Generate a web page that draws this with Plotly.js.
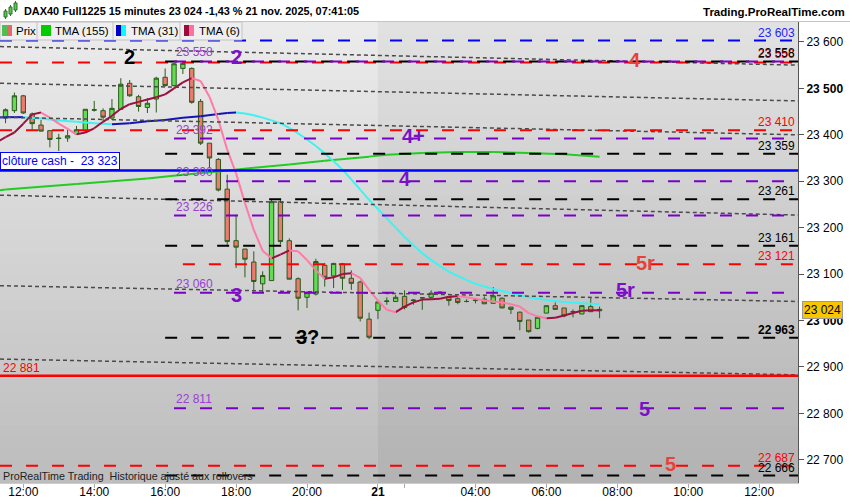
<!DOCTYPE html>
<html><head><meta charset="utf-8">
<script src="https://cdn.plot.ly/plotly-3.0.1.min.js"></script>
<style>html,body{margin:0;padding:0;background:#fff;}#chart{width:850px;height:500px;}</style>
</head><body><div id="chart"></div>
<script>
// ================= DATA =================
const session1Start = '2025-11-20 11:30';
const session1Count = 42;
const session2Start = '2025-11-21 01:15';

const openP  = [23436,23452,23484,23445,23421,23409,23393,23393,23402,23409,23453,23452,23436,23455,23511,23482,23459,23477,23524,23506,23543,23543,
                23472,23382,23347,23283,23172,23154,23126,23079,23086,23256,23172,23090,23050,23057,23119,23096,23122,23091,23083,23003,
                23022,23041,23041,23052,23043,23049,23050,23059,23050,23047,23041,23043,23046,23037,23048,23029,23018,23001,22983,23016,23032,23027,23019,23014,23030,23021];
const highP  = [23457,23491,23486,23448,23432,23409,23402,23411,23419,23455,23473,23457,23477,23522,23518,23486,23479,23525,23543,23554,23558,23545,
                23477,23382,23350,23314,23228,23154,23149,23106,23260,23261,23177,23093,23063,23133,23124,23124,23124,23108,23086,23017,
                23040,23050,23055,23065,23046,23050,23065,23062,23052,23050,23046,23048,23052,23072,23050,23029,23019,23001,23007,23032,23039,23027,23024,23032,23048,23030];
const lowP   = [23425,23447,23445,23411,23407,23373,23365,23385,23400,23404,23450,23429,23432,23454,23482,23450,23447,23448,23504,23504,23531,23467,
                23378,23328,23278,23163,23113,23093,23063,23060,23086,23164,23089,23022,23027,23054,23073,23070,23066,23066,22998,22960,
                23003,23034,23041,23024,23034,23023,23045,23057,23032,23035,23039,23037,23036,23036,23027,23014,22979,22974,22981,23016,23023,23007,23007,23014,23019,23005];
const closeP = [23454,23484,23447,23424,23408,23390,23392,23398,23411,23455,23454,23438,23457,23509,23484,23461,23468,23522,23506,23553,23554,23470,
                23382,23350,23281,23170,23158,23132,23084,23097,23256,23170,23089,23048,23060,23127,23093,23123,23091,23080,23005,22964,
                23040,23042,23050,23028,23044,23049,23059,23061,23043,23039,23041,23044,23036,23053,23027,23024,22998,22976,23007,23032,23024,23010,23019,23032,23019,23024];

const tma6Times = ['20 11:15','20 11:30','20 11:45','20 12:00','20 12:15','20 12:30','20 12:45','20 13:00','20 13:15','20 13:30','20 13:45','20 14:00','20 14:15','20 14:30','20 14:45','20 15:00','20 15:15','20 15:30','20 15:45','20 16:00','20 16:15','20 16:30','20 16:45','20 17:00','20 17:15','20 17:30','20 17:45','20 18:00','20 18:15','20 18:30','20 18:45','20 19:00','20 19:15','20 19:30','20 19:45','20 20:00','20 20:15','20 20:30','20 20:45','20 21:00','20 21:15','20 21:30','20 21:45','21 01:15','21 01:30','21 01:45','21 02:00','21 02:15','21 02:30','21 02:45','21 03:00','21 03:15','21 03:30','21 03:45','21 04:00','21 04:15','21 04:30','21 04:45','21 05:00','21 05:15','21 05:30','21 05:45','21 06:00','21 06:15','21 06:30','21 06:45','21 07:00','21 07:15','21 07:30'];
const tma6Values = [23384,23395,23405,23424,23444,23448,23437,23424,23413,23401,23405,23414,23428,23441,23456,23466,23471,23476,23481,23487,23500,23513,23522,23516,23482,23432,23368,23317,23253,23195,23150,23134,23142,23151,23149,23130,23108,23090,23093,23100,23102,23092,23066,23043,23023,23018,23030,23039,23045,23046,23047,23051,23052,23050,23047,23043,23041,23039,23035,23030,23016,23009,23005,23006,23011,23016,23021,23022,23022];

const tma31Times = ['20 11:15','20 11:30','20 11:45','20 12:00','20 12:30','20 13:00','20 13:30','20 14:00','20 14:30','20 15:00','20 15:30','20 16:00','20 16:30','20 17:00','20 17:30','20 17:45','20 18:00','20 18:15','20 18:30','20 18:45','20 19:00','20 19:15','20 19:30','20 19:45','20 20:00','20 20:15','20 20:30','20 20:45','20 21:00','20 21:15','20 21:30','20 21:45','21 01:15','21 01:30','21 01:45','21 02:00','21 02:15','21 02:30','21 02:45','21 03:00','21 03:15','21 03:30','21 03:45','21 04:00','21 04:30','21 05:00','21 05:30','21 06:00','21 06:30','21 07:00','21 07:30'];
const tma31Values = [23437,23438,23438,23438,23435,23431,23428,23425,23423,23425,23429,23432,23437,23440,23445,23447,23448,23446,23442,23437,23431,23425,23415,23403,23390,23376,23360,23343,23325,23304,23282,23260,23240,23220,23200,23180,23162,23145,23130,23117,23105,23096,23087,23079,23068,23059,23050,23044,23040,23037,23035];

const tma155Times = ['20 11:15','20 11:30','20 12:30','20 13:30','20 14:30','20 15:30','20 16:30','20 17:30','20 18:30','20 19:30','20 20:30','20 21:45','21 01:30','21 02:30','21 03:30','21 04:30','21 05:30','21 06:30','21 07:30'];
const tma155Values = [23280,23282,23288,23294,23300,23306,23314,23321,23329,23336,23344,23353,23357,23361,23363,23363,23361,23358,23353];

// horizontal levels
const blueDashedLevels   = [23603];
const redDashedLevels    = [23556, 23410, 22687];
const redDashedLateLevels = [23121];
const blackDashedLevels  = [23558, 23359, 23261, 23161, 22963, 22666];
const purpleDashedLevels = [23558, 23392, 23300, 23226, 23060, 22811];
const cashCloseLevel = 23323;
const redSolidLevel  = 22881;

// sloping dotted trend lines (price at left edge, price at right edge)
const trendLeft  = [23590, 23511, 23438, 23270, 23075, 22917];
const trendRight = [23550, 23473, 23400, 23227, 23041, 22883];

// wave labels
const waveLabels = ['2','2','4','4+','4','5r','3','5r','3?','5','5'];

// axes
const yTickValues = [22700,22800,22900,23000,23100,23200,23300,23400,23500,23600];
const xTickTimes  = ['20 12:00','20 14:00','20 16:00','20 18:00','20 20:00','21 01:15','21 02:00','21 04:00','21 06:00','21 08:00','21 10:00','21 12:00'];
const xTickLabels = ['12:00','14:00','16:00','18:00','20:00','<b>21</b>','','04:00','06:00','08:00','10:00','12:00'];

// ================= HELPERS =================
const FONT = 'Liberation Sans, Arial, sans-serif';
function T(s){ const p = s.split(' '); return '2025-11-' + p[0] + ' ' + p[1]; }
function fmt(v){ return String(Math.round(v)).replace(/\B(?=(\d{3})+(?!\d))/g, ' '); }
function makeTimes(startStr, n){
  const [date, hm] = startStr.split(' ');
  const [Y, M, D] = date.split('-').map(Number);
  const [h, m] = hm.split(':').map(Number);
  const base = Date.UTC(Y, M - 1, D, h, m);
  const out = [];
  for (let i = 0; i < n; i++) out.push(new Date(base + i * 900000).toISOString().slice(0, 16).replace('T', ' '));
  return out;
}
const candleTimes = makeTimes(session1Start, session1Count).concat(makeTimes(session2Start, openP.length - session1Count));

const X_START = '2025-11-20 11:20:36';
const X_END   = '2025-11-21 13:05:40';
const DAY_SPLIT = '2025-11-21 01:15';
const PLOT_W = 798, PLOT_TOP = 22, PLOT_BOT = 483;
const px = x => x / PLOT_W;
const py = y => (PLOT_BOT - y) / (PLOT_BOT - PLOT_TOP);

function slopeTraces(times, vals, upColor, downColor, width){
  const up = {x: [], y: []}, dn = {x: [], y: []};
  for (let i = 0; i < vals.length - 1; i++){
    const tgt = vals[i + 1] >= vals[i] ? up : dn;
    tgt.x.push(T(times[i]), T(times[i + 1]), null);
    tgt.y.push(vals[i], vals[i + 1], null);
  }
  return [up, dn].map((s, k) => ({type: 'scatter', mode: 'lines', x: s.x, y: s.y, hoverinfo: 'skip',
    line: {color: k === 0 ? upColor : downColor, width: width}, connectgaps: false}));
}

// ================= TRACES =================
const traces = [];
traces.push(...slopeTraces(tma155Times, tma155Values, '#22cc22', '#22cc22', 2));
traces.push(...slopeTraces(tma31Times, tma31Values, '#1414b4', '#3ff2f2', 2));
traces.push({
  type: 'candlestick', x: candleTimes, open: openP, high: highP, low: lowP, close: closeP,
  increasing: {line: {color: '#2c5a1c', width: 1}, fillcolor: '#62dc52'},
  decreasing: {line: {color: '#2c5a1c', width: 1}, fillcolor: '#ee7a70'},
  whiskerwidth: 0, hoverinfo: 'skip'
});
traces.push(...slopeTraces(tma6Times, tma6Values, '#9a1040', '#ff7aa6', 2));

// ================= SHAPES =================
const shapes = [];
const NB = 40;
function grey(v){ v = Math.round(v); return 'rgb(' + v + ',' + v + ',' + v + ')'; }
for (let i = 0; i < NB; i++){
  const f = (i + 0.5) / NB;
  const y0 = i / NB, y1 = Math.min(1, (i + 1) / NB + 0.002);
  shapes.push({type: 'rect', layer: 'below', xref: 'x', yref: 'paper', x0: X_START, x1: DAY_SPLIT, y0: y0, y1: y1,
    fillcolor: grey(188 + (236 - 188) * f), line: {width: 0}});
  shapes.push({type: 'rect', layer: 'below', xref: 'x', yref: 'paper', x0: DAY_SPLIT, x1: X_END, y0: y0, y1: y1,
    fillcolor: grey(178 + (226 - 178) * f), line: {width: 0}});
}
trendLeft.forEach((v, i) => shapes.push({type: 'line', layer: 'above', xref: 'x', yref: 'y', x0: X_START, x1: X_END, y0: v, y1: trendRight[i],
  line: {color: '#4a4a4a', width: 1.5, dash: '4px,3px'}}));
const DASH = '12px,14px';
function hline(v, color, x0, dash, w){
  shapes.push({type: 'line', layer: 'above', xref: x0 ? 'x' : 'paper', yref: 'y', x0: x0 ? x0 : 0, x1: x0 ? X_END : 1, y0: v, y1: v,
    line: {color: color, width: w || 2, dash: dash}});
}
blueDashedLevels.forEach(v => hline(v, '#0000ff', null, DASH));
redDashedLevels.forEach(v => hline(v, '#ff0000', null, DASH));
blackDashedLevels.forEach(v => hline(v, '#000000', '2025-11-20 16:00', DASH));
purpleDashedLevels.forEach(v => hline(v, '#7a00c6', '2025-11-20 16:15', DASH));
redDashedLateLevels.forEach(v => hline(v, '#ff0000', '2025-11-20 16:30', DASH));
hline(cashCloseLevel, '#0000ff', null, 'solid', 2.5);
hline(redSolidLevel, '#ff0000', null, 'solid', 2.5);

shapes.push({type: 'line', layer: 'above', xref: 'paper', yref: 'paper', x0: 0, x1: px(850), y0: py(21.5), y1: py(21.5), line: {color: '#c4c4c4', width: 1}});
[[4, 11, 17, 9, 19], [9, 7, 14, 5, 16], [14, 3, 10, 1, 12]].forEach(c => {
  shapes.push({type: 'line', layer: 'above', xref: 'paper', yref: 'paper', x0: px(c[0] + 1.5), x1: px(c[0] + 1.5), y0: py(c[3]), y1: py(c[4]), line: {color: '#2f6f2f', width: 1}});
  shapes.push({type: 'rect', layer: 'above', xref: 'paper', yref: 'paper', x0: px(c[0]), x1: px(c[0] + 3), y0: py(c[1]), y1: py(c[2]), fillcolor: '#55cc44', line: {color: '#2f6f2f', width: 1}});
});
shapes.push({type: 'rect', layer: 'above', xref: 'paper', yref: 'paper', x0: px(0), x1: px(242), y0: py(40), y1: py(22), fillcolor: '#efefef', line: {color: '#c3c3c3', width: 1}});
[37, 113, 180].forEach(x => shapes.push({type: 'line', layer: 'above', xref: 'paper', yref: 'paper', x0: px(x), x1: px(x), y0: py(40), y1: py(22), line: {color: '#c3c3c3', width: 1}}));
function iconRect(x0, x1, c){ shapes.push({type: 'rect', layer: 'above', xref: 'paper', yref: 'paper', x0: px(x0), x1: px(x1), y0: py(36), y1: py(25), fillcolor: c, line: {width: 0}}); }
iconRect(2, 7, '#4fc04f'); iconRect(7, 12, '#e06a6a');
iconRect(41, 51, '#00cc00');
iconRect(116, 121, '#0000cc'); iconRect(121, 126, '#00ffff');
iconRect(184, 189, '#9a0c3c'); iconRect(189, 194, '#ff6f9f');

// ================= ANNOTATIONS =================
const ann = [];
function txt(o){ ann.push(Object.assign({showarrow: false, font: {family: FONT, size: 12, color: '#000'}}, o)); }
const lastClose = closeP[closeP.length - 1];
txt({xref: 'paper', yref: 'paper', x: px(22), y: py(11), xanchor: 'left', yanchor: 'middle',
  text: '<b>DAX40 Full1225 15 minutes ' + fmt(lastClose) + ' -1,43 % 21 nov. 2025, 07:41:05</b>', font: {family: FONT, size: 10.9, color: '#000'}});
txt({xref: 'paper', yref: 'paper', x: px(847), y: py(12), xanchor: 'right', yanchor: 'middle',
  text: '<b>Trading.ProRealTime.com</b>', font: {family: FONT, size: 11.5, color: '#000'}});
[['Prix', 14], ['TMA (155)', 53], ['TMA (31)', 129], ['TMA (6)', 197]].forEach(t =>
  txt({xref: 'paper', yref: 'paper', x: px(t[1]), y: py(31), xanchor: 'left', yanchor: 'middle', text: t[0], font: {family: FONT, size: 11.5, color: '#000'}}));

function rightLabel(v, color, bold){ txt({xref: 'paper', yref: 'y', x: 1, y: v, xanchor: 'right', yanchor: 'middle', xshift: -1, yshift: 8,
  text: bold ? '<b>' + fmt(v) + '</b>' : fmt(v), font: {family: FONT, size: 12, color: color}}); }
blueDashedLevels.forEach(v => rightLabel(v, '#2222ff'));
redDashedLevels.forEach(v => rightLabel(v, '#ff0000'));
redDashedLateLevels.forEach(v => rightLabel(v, '#ff0000'));
blackDashedLevels.forEach(v => rightLabel(v, '#000000', v === 22963));
purpleDashedLevels.forEach(v => txt({xref: 'x', yref: 'y', x: '2025-11-20 16:15', y: v, xanchor: 'left', yanchor: 'middle', xshift: 0, yshift: 9,
  text: fmt(v), font: {family: FONT, size: 12, color: '#9a40d6'}}));
txt({xref: 'paper', yref: 'y', x: 0, y: cashCloseLevel, xanchor: 'left', yanchor: 'bottom', yshift: 1,
  text: 'clôture cash -  ' + fmt(cashCloseLevel), bgcolor: '#ffffff', bordercolor: '#0000ff', borderwidth: 1, borderpad: 1,
  font: {family: FONT, size: 12, color: '#0000ff'}});
txt({xref: 'paper', yref: 'y', x: 0, y: redSolidLevel, xanchor: 'left', yanchor: 'middle', xshift: 1, yshift: 8,
  text: fmt(redSolidLevel), font: {family: FONT, size: 12, color: '#ff0000'}});
txt({xref: 'paper', yref: 'paper', x: px(1), y: py(476), xanchor: 'left', yanchor: 'middle',
  text: 'ProRealTime Trading  Historique ajusté aux rollovers', font: {family: FONT, size: 10.7, color: '#222'}});
txt({xref: 'paper', yref: 'y', x: 1, y: lastClose, xanchor: 'left', yanchor: 'middle', xshift: 4, yshift: -1,
  text: fmt(lastClose), bgcolor: '#f7c600', bordercolor: '#999', borderwidth: 1, borderpad: 1, font: {family: FONT, size: 12, color: '#000'}});
const wavePos = [
  ['20 15:00', 23568, '#000000'], ['20 18:00', 23568, '#7a10c8'], ['21 08:30', 23562, '#e8403a'],
  ['21 02:15', 23398, '#7a10c8'], ['21 02:00', 23304, '#7a10c8'], ['21 08:47', 23124, '#e8403a'],
  ['20 18:00', 23056, '#7a10c8'], ['21 08:14', 23066, '#7a10c8'], ['20 20:00', 22965, '#000000'],
  ['21 08:46', 22810, '#7a10c8'], ['21 09:30', 22691, '#e8403a']];
waveLabels.forEach((s, i) => txt({xref: 'x', yref: 'y', x: T(wavePos[i][0]), y: wavePos[i][1], xanchor: 'center', yanchor: 'middle',
  text: '<b>' + s + '</b>', font: {family: FONT, size: 20, color: wavePos[i][2]}}));

// ================= LAYOUT =================
const layout = {
  width: 850, height: 500,
  margin: {l: 0, r: 52, t: 22, b: 17, pad: 0},
  paper_bgcolor: '#ffffff', plot_bgcolor: '#d0d0d0',
  showlegend: false, separators: ', ',
  font: {family: FONT, size: 12, color: '#000'},
  xaxis: {type: 'date', range: [X_START, X_END],
    rangebreaks: [{bounds: ['2025-11-20 22:00', '2025-11-21 01:15']}],
    tickmode: 'array', tickvals: xTickTimes.map(T), ticktext: xTickLabels,
    ticks: 'outside', ticklen: 4, tickcolor: '#aaa', ticklabelstandoff: -6, showgrid: false, zeroline: false,
    showline: true, linecolor: '#cccccc', tickfont: {family: FONT, size: 12, color: '#000'},
    rangeslider: {visible: false}, fixedrange: true},
  yaxis: {side: 'right', range: [22650, 23643], tickmode: 'array', tickvals: yTickValues,
    ticktext: yTickValues.map(v => v % 500 === 0 ? '<b>' + fmt(v) + '</b>' : fmt(v)),
    ticks: 'outside', ticklen: 5, tickcolor: '#555', showline: true, linecolor: '#555', linewidth: 1,
    showgrid: false, zeroline: false, tickfont: {family: FONT, size: 12, color: '#000'}, fixedrange: true},
  shapes: shapes, annotations: ann
};
Plotly.newPlot('chart', traces, layout, {displayModeBar: false, staticPlot: true});
</script></body></html>
